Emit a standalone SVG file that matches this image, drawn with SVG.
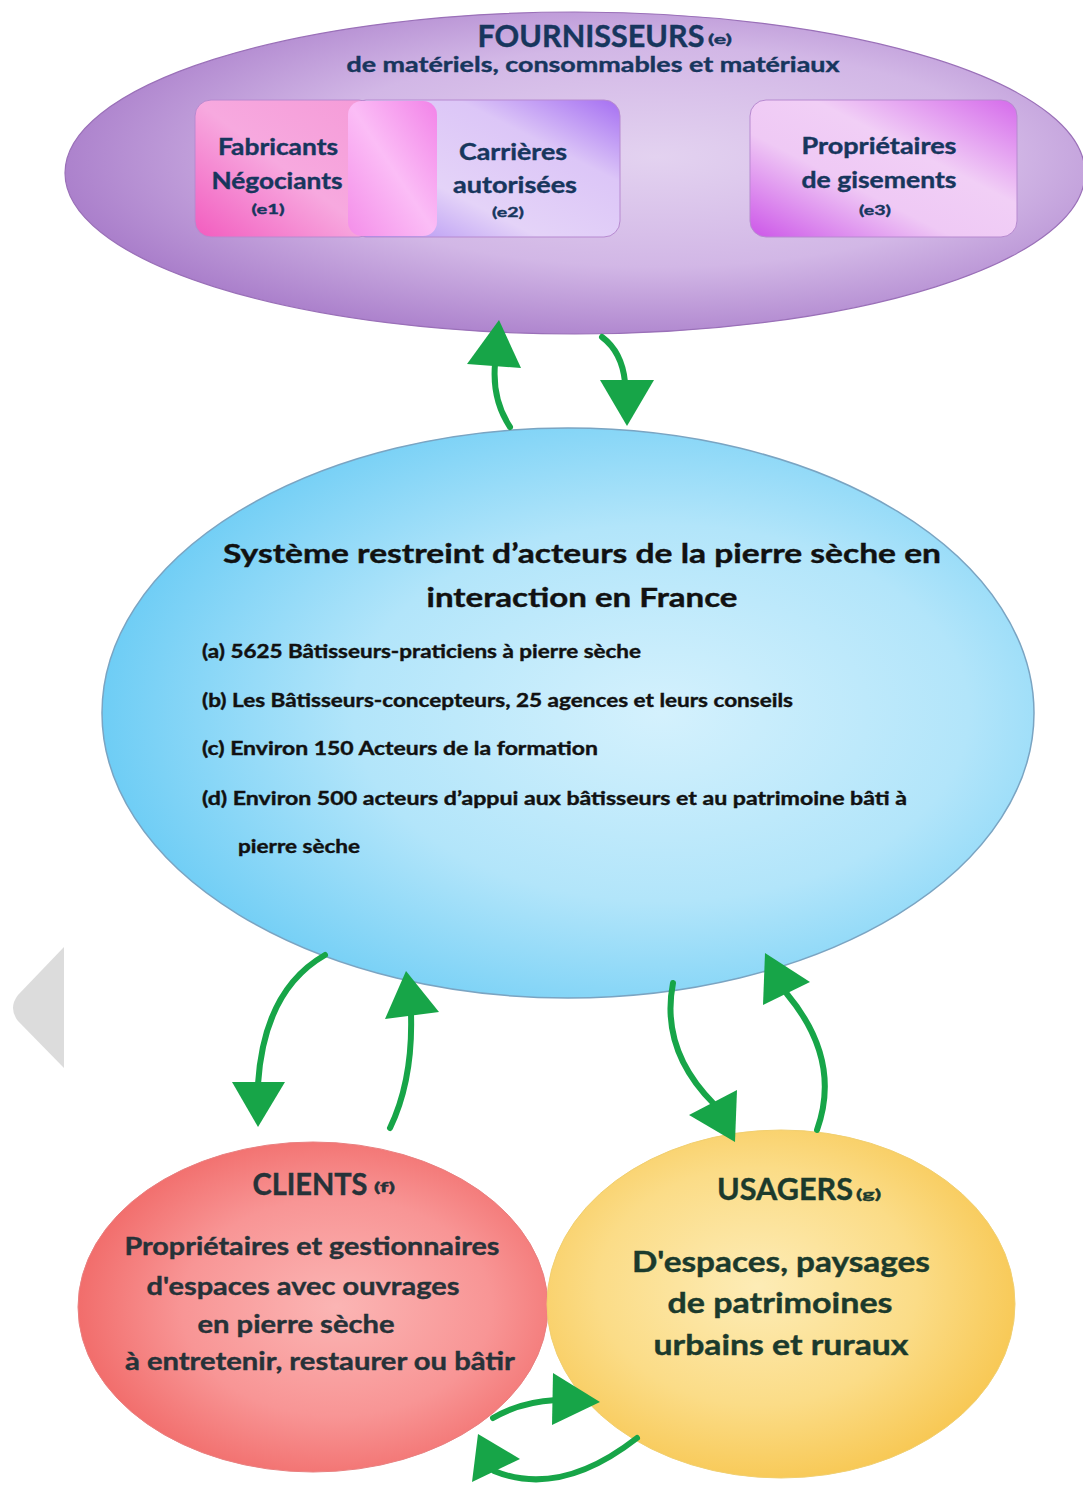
<svg xmlns="http://www.w3.org/2000/svg" width="1083" height="1486" viewBox="0 0 1083 1486">
<defs>
<radialGradient id="gPurple" cx="0.58" cy="0.45" r="0.62">
<stop offset="0" stop-color="#e3d2f0"/>
<stop offset="0.55" stop-color="#d2b7e6"/>
<stop offset="1" stop-color="#a679c8"/>
</radialGradient>
<radialGradient id="gBlue" cx="0.6" cy="0.5" r="0.6">
<stop offset="0" stop-color="#d4f1fd"/>
<stop offset="0.55" stop-color="#b2e5fa"/>
<stop offset="1" stop-color="#6ecdf5"/>
</radialGradient>
<radialGradient id="gRed" cx="0.55" cy="0.5" r="0.6">
<stop offset="0" stop-color="#fbb5b4"/>
<stop offset="0.55" stop-color="#f89595"/>
<stop offset="1" stop-color="#f06462"/>
</radialGradient>
<radialGradient id="gYellow" cx="0.45" cy="0.45" r="0.62">
<stop offset="0" stop-color="#fdecb6"/>
<stop offset="0.55" stop-color="#fbdc87"/>
<stop offset="1" stop-color="#f7c44a"/>
</radialGradient>
<linearGradient id="gE1" x1="0" y1="1" x2="1" y2="0">
<stop offset="0" stop-color="#f25cbf"/>
<stop offset="0.5" stop-color="#f7a9df"/>
<stop offset="1" stop-color="#f59bd8"/>
</linearGradient>
<linearGradient id="gOver" x1="0" y1="1" x2="1" y2="0">
<stop offset="0" stop-color="#f48ee9"/>
<stop offset="0.5" stop-color="#fbbdf6"/>
<stop offset="1" stop-color="#f283e8"/>
</linearGradient>
<linearGradient id="gE2" x1="0" y1="1" x2="1" y2="0">
<stop offset="0" stop-color="#a985f2"/>
<stop offset="0.35" stop-color="#e4d3f8"/>
<stop offset="0.7" stop-color="#dcc6f7"/>
<stop offset="1" stop-color="#a56ff2"/>
</linearGradient>
<linearGradient id="gE3" x1="0" y1="1" x2="1" y2="0">
<stop offset="0" stop-color="#cc55e8"/>
<stop offset="0.38" stop-color="#efc9f5"/>
<stop offset="0.62" stop-color="#f1cff6"/>
<stop offset="1" stop-color="#d56aeb"/>
</linearGradient>
</defs>
<style>
text{font-family:Lato,"Open Sans","Liberation Sans",sans-serif;font-weight:700;stroke-width:0.4;paint-order:stroke}
.tp{fill:#17365d;stroke:#17365d}
.bk{fill:#111111;stroke:#111111}
.cl{fill:#263238;stroke:#263238}
.us{fill:#1b3a2c;stroke:#1b3a2c}
.c{text-anchor:middle}
.box{stroke:#b78ad0;stroke-width:1}
.link{fill:none;stroke:#17a548;stroke-width:6;stroke-linecap:round}
.head{fill:#17a548}
</style>

<g id="nav-arrow">
<path d="M64,947 L64,1068 L18,1021 Q8,1008 18,995 Z" fill="#dcdcdc"/>
</g>

<g id="fournisseurs">
<ellipse cx="575" cy="173" rx="510" ry="161" fill="url(#gPurple)" stroke="#9a70b8" stroke-width="1.2"/>
<text class="tp c" x="591" y="47" font-size="30" textLength="227" lengthAdjust="spacingAndGlyphs">FOURNISSEURS</text>
<text class="tp" x="708" y="44" font-size="14" textLength="24" lengthAdjust="spacingAndGlyphs">(e)</text>
<text class="tp c" x="593" y="72" font-size="21" textLength="493" lengthAdjust="spacingAndGlyphs">de matériels, consommables et matériaux</text>
</g>

<g id="e2-carrieres">
<rect class="box" x="350" y="100" width="270" height="137" rx="16" fill="url(#gE2)"/>
<text class="tp c" x="513" y="160" font-size="22" textLength="108" lengthAdjust="spacingAndGlyphs">Carrières</text>
<text class="tp c" x="515" y="193" font-size="22" textLength="124" lengthAdjust="spacingAndGlyphs">autorisées</text>
<text class="tp c" x="508" y="217" font-size="14" textLength="32" lengthAdjust="spacingAndGlyphs">(e2)</text>
</g>

<g id="e1-fabricants">
<rect class="box" x="195" y="100" width="180" height="137" rx="16" fill="url(#gE1)"/>
<rect x="348" y="101" width="89" height="135" rx="14" fill="url(#gOver)"/>
<text class="tp c" x="278" y="155" font-size="22" textLength="120" lengthAdjust="spacingAndGlyphs">Fabricants</text>
<text class="tp c" x="277" y="189" font-size="22" textLength="131" lengthAdjust="spacingAndGlyphs">Négociants</text>
<text class="tp c" x="268" y="214" font-size="14" textLength="33" lengthAdjust="spacingAndGlyphs">(e1)</text>
</g>

<g id="e3-proprietaires">
<rect class="box" x="750" y="100" width="267" height="137" rx="16" fill="url(#gE3)"/>
<text class="tp c" x="879" y="154" font-size="22" textLength="155" lengthAdjust="spacingAndGlyphs">Propriétaires</text>
<text class="tp c" x="879" y="188" font-size="22" textLength="155" lengthAdjust="spacingAndGlyphs">de gisements</text>
<text class="tp c" x="875" y="215" font-size="14" textLength="32" lengthAdjust="spacingAndGlyphs">(e3)</text>
</g>

<g id="systeme">
<ellipse cx="568" cy="713" rx="466" ry="285" fill="url(#gBlue)" stroke="#7aa4c2" stroke-width="1.5"/>
<text class="bk c" x="582" y="563" font-size="26" textLength="718" lengthAdjust="spacingAndGlyphs">Système restreint d’acteurs de la pierre sèche en</text>
<text class="bk c" x="582" y="607" font-size="26" textLength="311" lengthAdjust="spacingAndGlyphs">interaction en France</text>
<text class="bk" x="202" y="658" font-size="19" textLength="439" lengthAdjust="spacingAndGlyphs">(a) 5625  Bâtisseurs-praticiens à pierre sèche</text>
<text class="bk" x="202" y="707" font-size="19" textLength="591" lengthAdjust="spacingAndGlyphs">(b) Les Bâtisseurs-concepteurs, 25 agences et leurs conseils</text>
<text class="bk" x="202" y="755" font-size="19" textLength="396" lengthAdjust="spacingAndGlyphs">(c) Environ 150 Acteurs de la formation</text>
<text class="bk" x="202" y="805" font-size="19" textLength="705" lengthAdjust="spacingAndGlyphs">(d) Environ 500 acteurs d’appui aux bâtisseurs et au patrimoine bâti à</text>
<text class="bk" x="238" y="853" font-size="19" textLength="122" lengthAdjust="spacingAndGlyphs">pierre sèche</text>
</g>

<g id="clients">
<ellipse cx="313" cy="1307" rx="235" ry="165" fill="url(#gRed)" stroke="#e98080" stroke-width="1"/>
<text class="cl c" x="310" y="1195" font-size="30" textLength="115" lengthAdjust="spacingAndGlyphs">CLIENTS</text>
<text class="cl" x="374" y="1192" font-size="13" textLength="21" lengthAdjust="spacingAndGlyphs">(f)</text>
<text class="cl c" x="312" y="1255" font-size="25" textLength="375" lengthAdjust="spacingAndGlyphs">Propriétaires et gestionnaires</text>
<text class="cl c" x="303" y="1295" font-size="25" textLength="313" lengthAdjust="spacingAndGlyphs">d'espaces avec ouvrages</text>
<text class="cl c" x="296" y="1333" font-size="25" textLength="197" lengthAdjust="spacingAndGlyphs">en pierre sèche</text>
<text class="cl c" x="320" y="1370" font-size="25" textLength="390" lengthAdjust="spacingAndGlyphs">à entretenir, restaurer ou bâtir</text>
</g>

<g id="usagers">
<ellipse cx="781" cy="1304" rx="234" ry="174" fill="url(#gYellow)" stroke="#f1cf70" stroke-width="1"/>
<text class="us c" x="785" y="1200" font-size="31" textLength="136" lengthAdjust="spacingAndGlyphs">USAGERS</text>
<text class="us" x="856" y="1199" font-size="14" textLength="25" lengthAdjust="spacingAndGlyphs">(g)</text>
<text class="us c" x="781" y="1272" font-size="28" textLength="298" lengthAdjust="spacingAndGlyphs">D'espaces, paysages</text>
<text class="us c" x="780" y="1313" font-size="28" textLength="225" lengthAdjust="spacingAndGlyphs">de patrimoines</text>
<text class="us c" x="781" y="1355" font-size="28" textLength="255" lengthAdjust="spacingAndGlyphs">urbains et ruraux</text>
</g>

<g id="connectors">
<path class="link" d="M510,427 Q492,400 495,364"/>
<polygon class="head" points="499,320 467,364 521,368"/>
<path class="link" d="M602,337 Q622,352 625,382"/>
<polygon class="head" points="600,380 654,380 627,426"/>
<path class="link" d="M325,955 Q264,990 258,1084"/>
<polygon class="head" points="232,1082 285,1082 258,1127"/>
<path class="link" d="M390,1128 Q413,1080 411,1014"/>
<polygon class="head" points="385,1019 439,1012 406,971"/>
<path class="link" d="M673,983 Q660,1050 714,1104"/>
<polygon class="head" points="689,1115 737,1090 735,1142"/>
<path class="link" d="M817,1130 Q842,1060 787,994"/>
<polygon class="head" points="765,953 810,982 763,1005"/>
<path class="link" d="M493,1418 Q520,1402 556,1400"/>
<polygon class="head" points="553,1373 600,1402 552,1425"/>
<path class="link" d="M637,1438 Q560,1498 494,1471"/>
<polygon class="head" points="478,1434 520,1459 472,1482"/>
</g>
</svg>
